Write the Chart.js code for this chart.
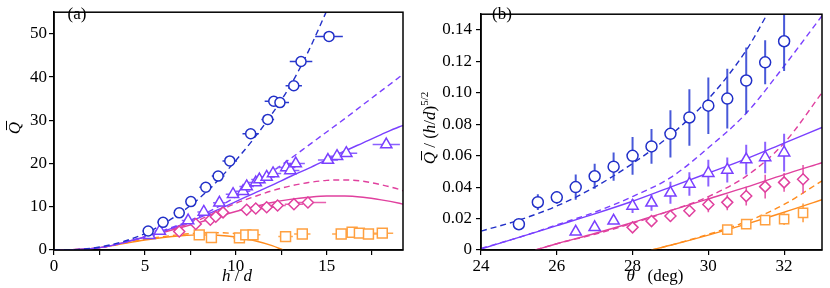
<!DOCTYPE html>
<html>
<head>
<meta charset="utf-8">
<script src="https://cdn.jsdelivr.net/npm/chart.js@4.4.0/dist/chart.umd.min.js"></script>
<style>
  body { margin: 0; background: #fff; width: 830px; height: 288px; overflow: hidden; position: relative; }
  canvas { position: absolute; top: 0; }
  #chartA { left: 0; }
  #chartB { left: 415px; }
</style>
</head>
<body>
<canvas id="chartA" width="415" height="288"></canvas>
<canvas id="chartB" width="415" height="288"></canvas>
<script>
// ---------- panel (a): Q vs h/d ----------
const circleH   = [5.18, 6.0, 6.89, 7.53, 8.35, 9.03, 9.67, 10.82, 11.76, 12.09, 12.43, 13.19, 13.59, 15.13];
const circleQ   = [4.4, 6.4, 8.6, 11.2, 14.5, 17.1, 20.6, 26.9, 30.2, 34.4, 34.1, 38.0, 43.6, 49.4];
const circleHErr = [0.3, 0.3, 0.3, 0.3, 0.35, 0.35, 0.4, 0.45, 0.35, 0.5, 0.5, 0.45, 0.62, 0.76];

const triH   = [5.25, 5.82, 7.38, 8.24, 9.1, 9.85, 10.4, 10.6, 11.1, 11.3, 11.7, 12.05, 12.78, 13.0, 13.3, 15.07, 15.57, 16.08, 18.28];
const triQ   = [3.4, 4.4, 6.8, 8.8, 10.9, 12.9, 13.6, 14.7, 15.6, 16.3, 16.9, 17.7, 19.1, 18.4, 20.0, 20.8, 21.7, 22.4, 24.4];
const triHErr = [0.3, 0.3, 0.35, 0.35, 0.35, 0.4, 0.4, 0.4, 0.45, 0.45, 0.45, 0.45, 0.5, 0.5, 0.5, 0.55, 0.55, 0.6, 0.75];

const diaH   = [6.89, 7.8, 8.6, 8.9, 9.3, 10.6, 11.1, 11.7, 12.3, 13.2, 13.97];
const diaQ   = [4.3, 6.0, 7.0, 7.7, 8.7, 9.3, 9.6, 9.9, 10.3, 10.6, 11.0];
const diaHErr = [0.3, 0.3, 0.3, 0.3, 0.35, 0.4, 0.4, 0.45, 0.45, 0.5, 1.0];

const sqH   = [7.99, 8.66, 10.2, 10.55, 10.95, 12.74, 13.66, 15.8, 16.4, 16.8, 17.3, 18.06];
const sqQ   = [3.5, 2.9, 2.8, 3.5, 3.5, 3.1, 3.7, 3.7, 4.1, 3.9, 3.7, 3.9];
const sqHErr = [0.3, 0.3, 0.35, 0.35, 0.4, 0.4, 0.45, 0.5, 0.5, 0.55, 0.55, 0.6];

const curveH      = [0, 1, 2, 3, 4, 5, 6, 7, 8, 9, 10, 11, 12, 13, 14, 15, 16, 17, 18, 19, 19.2];
const blueDashQ   = [0, 0.05, 0.35, 1.1, 2.2, 3.8, 6.0, 8.7, 12.0, 16.0, 20.7, 25.8, 31.5, 38.0, 46.0, 55.3];
const purpDashQ   = [0, 0.05, 0.3, 0.9, 1.9, 3.1, 4.5, 6.0, 7.8, 9.9, 12.3, 15.1, 18.1, 21.1, 24.2, 27.3, 30.4, 33.6, 36.8, 40.0, 40.7];
const purpSolidQ  = [0, 0.05, 0.3, 0.9, 1.9, 3.0, 4.3, 5.8, 7.5, 9.3, 11.2, 13.1, 15.0, 17.0, 18.9, 20.9, 22.9, 24.8, 26.7, 28.5, 28.8];
const magDashQ    = [0, 0.05, 0.3, 0.9, 1.9, 3.0, 4.2, 5.5, 7.0, 8.9, 10.8, 12.3, 13.7, 14.8, 15.6, 16.1, 16.2, 15.9, 15.1, 14.0, 13.7];
const magSolidQ   = [0, 0.05, 0.3, 0.9, 1.9, 3.0, 4.1, 5.2, 6.4, 7.7, 8.9, 10.0, 11.0, 11.7, 12.2, 12.5, 12.5, 12.2, 11.6, 10.8, 10.6];
const orangeDashQ = [0, 0.05, 0.3, 0.85, 1.7, 2.5, 3.1, 3.6, 3.9, 4.0, 3.8, 3.4];
const orangeSolidH = [0, 1, 2, 3, 4, 5, 6, 7, 8, 9, 10, 11, 12, 12.6];
const orangeSolidQ = [0, 0.05, 0.3, 0.85, 1.6, 2.3, 2.9, 3.3, 3.5, 3.4, 3.0, 2.2, 1.0, 0];

// ---------- panel (b): Q / (h/d)^(5/2) vs theta ----------
const thetaCirc = [25, 25.5, 26, 26.5, 27, 27.5, 28, 28.5, 29, 29.5, 30, 30.5, 31, 31.5, 32];
const circVal   = [0.0164, 0.0304, 0.0335, 0.040, 0.0469, 0.053, 0.0599, 0.0659, 0.0739, 0.0843, 0.0918, 0.0963, 0.1078, 0.1194, 0.1328];
const circErr   = [0.002, 0.005, 0.004, 0.008, 0.008, 0.009, 0.012, 0.011, 0.015, 0.018, 0.018, 0.019, 0.021, 0.014, 0.019];

const thetaTri = [26.5, 27, 27.5, 28, 28.5, 29, 29.5, 30, 30.5, 31, 31.5, 32];
const triVal   = [0.0116, 0.0144, 0.0186, 0.028, 0.030, 0.0364, 0.042, 0.0489, 0.0509, 0.0575, 0.0589, 0.0619];
const triErr   = [0.001, 0.001, 0.002, 0.0045, 0.005, 0.007, 0.0075, 0.0085, 0.008, 0.0095, 0.010, 0.012];

const thetaDia = [28, 28.5, 29, 29.5, 30, 30.5, 31, 31.5, 32, 32.5];
const diaVal   = [0.0144, 0.0184, 0.0216, 0.025, 0.029, 0.0303, 0.0343, 0.0403, 0.043, 0.045];
const diaErr   = [0.001, 0.002, 0.0035, 0.004, 0.005, 0.005, 0.006, 0.0075, 0.006, 0.009];

const thetaSq = [30.5, 31, 31.5, 32, 32.5];
const sqVal   = [0.013, 0.0164, 0.019, 0.0196, 0.0236];
const sqErr   = [0.002, 0.002, 0.003, 0.0037, 0.006];

const thetaBlueDash = [24, 25, 26, 27, 28, 29, 30, 31, 31.6];
const blueDashB     = [0.012, 0.019, 0.028, 0.040, 0.055, 0.073, 0.096, 0.127, 0.152];
const thetaFull     = [24, 25, 26, 27, 28, 29, 30, 31, 32, 33];
const purpDashB     = [0.001, 0.008, 0.016, 0.024, 0.034, 0.046, 0.065, 0.087, 0.117, 0.149];
const purpSolidB    = [0.0006, 0.008, 0.0155, 0.023, 0.031, 0.040, 0.049, 0.058, 0.068, 0.078];
const thetaMag      = [25.44, 26, 27, 28, 29, 30, 31, 32, 33];
const magDashB      = [0, 0.004, 0.010, 0.017, 0.025, 0.034, 0.047, 0.068, 0.100];
const magSolidB     = [0, 0.004, 0.0105, 0.0175, 0.025, 0.0325, 0.040, 0.048, 0.0555];
const thetaOrange   = [28.5, 29, 30, 31, 32, 33];
const orangeDashB   = [0, 0.003, 0.010, 0.018, 0.029, 0.044];
const orangeSolidB  = [0, 0.003, 0.0095, 0.0165, 0.024, 0.032];

const xTicksA = [0, 5, 10, 15];

// ---------- styles ----------
const BLUE = '#2230c8', PURPLE = '#7a40ff', MAGENTA = '#e0409e', ORANGE = '#ff8c1e';
const SERIF = '"Liberation Serif", "Times New Roman", serif';

Chart.defaults.font.family = SERIF;
Chart.defaults.font.size = 17;
Chart.defaults.color = '#000';

const pts = (xs, ys) => ys.map((y, i) => ({ x: xs[i], y: y }));

function curve(xs, ys, color, dashed) {
  return {
    data: pts(xs, ys), showLine: true, pointRadius: 0, borderColor: color,
    borderWidth: 1.4, borderDash: dashed ? [6, 4] : [], cubicInterpolationMode: 'monotone',
    order: 3
  };
}
function marks(xs, ys, style, r, color, fill, extra) {
  return Object.assign({
    data: pts(xs, ys), showLine: false, pointStyle: style, pointRadius: r,
    borderColor: color, backgroundColor: fill, pointBorderWidth: 1.5, order: 1
  }, extra);
}

// draws error bars, frame and the text labels
const deco = {
  id: 'deco',
  beforeDatasetDraw(chart, args) {
    const ds = chart.data.datasets[args.index];
    if (!ds.xErr && !ds.yErr) return;
    const ctx = chart.ctx, xs = chart.scales.x, ys = chart.scales.y, a = chart.chartArea;
    ctx.save();
    ctx.beginPath();
    ctx.rect(a.left, a.top, a.right - a.left, a.bottom - a.top);
    ctx.clip();
    ctx.strokeStyle = ds.errColor || ds.borderColor;
    ctx.lineWidth = ds.errWidth || 1.5;
    ds.data.forEach((p, i) => {
      ctx.beginPath();
      if (ds.xErr) {
        const py = ys.getPixelForValue(p.y);
        ctx.moveTo(xs.getPixelForValue(p.x - ds.xErr[i]), py);
        ctx.lineTo(xs.getPixelForValue(p.x + ds.xErr[i]), py);
      }
      if (ds.yErr) {
        const px = xs.getPixelForValue(p.x);
        ctx.moveTo(px, ys.getPixelForValue(p.y - ds.yErr[i]));
        ctx.lineTo(px, ys.getPixelForValue(p.y + ds.yErr[i]));
      }
      ctx.stroke();
    });
    ctx.restore();
  },
  afterDraw(chart, args, opts) {
    const ctx = chart.ctx, a = chart.chartArea;
    ctx.save();
    ctx.strokeStyle = '#000';
    ctx.lineWidth = 1.5;
    ctx.strokeRect(a.left, a.top, a.right - a.left, a.bottom - a.top);
    (opts.texts || []).forEach(t => drawRuns(ctx, t.runs, t.x, t.y, t.rot));
    ctx.restore();
  }
};

// text made of runs with their own fonts; a run with bar:true gets an overbar
function drawRuns(ctx, runs, x, y, rot) {
  ctx.save();
  ctx.translate(x, y);
  if (rot) ctx.rotate(-Math.PI / 2);
  ctx.fillStyle = '#000';
  ctx.strokeStyle = '#000';
  ctx.textBaseline = 'middle';
  ctx.textAlign = 'left';
  let w = 0;
  runs.forEach(r => { ctx.font = r.f; w += ctx.measureText(r.t).width; });
  let cx = -w / 2;
  runs.forEach(r => {
    ctx.font = r.f;
    const rw = ctx.measureText(r.t).width;
    ctx.fillText(r.t, cx, r.dy || 0);
    if (r.bar) {
      ctx.lineWidth = 1;
      ctx.beginPath();
      ctx.moveTo(cx + 4, -9.5);
      ctx.lineTo(cx + rw + 1, -9.5);
      ctx.stroke();
    }
    cx += rw;
  });
  ctx.restore();
}

const IT = 'italic 17px ' + SERIF, RM = '17px ' + SERIF, SM = '11px ' + SERIF;

function axisOpts(min, max, step, cb, tickPad, fitSize, isY) {
  return {
    type: 'linear', min: min, max: max,
    grid: { drawOnChartArea: false, drawTicks: true, tickLength: 5, color: '#000', lineWidth: 1.2 },
    border: { display: true, color: '#000', width: 1.5 },
    ticks: { stepSize: step, includeBounds: false, padding: tickPad, callback: cb, autoSkip: false, maxRotation: 0 },
    afterFit: s => { if (isY) s.width = fitSize; else s.height = fitSize; }
  };
}

// ---------- chart (a) ----------
new Chart(document.getElementById('chartA'), {
  type: 'scatter',
  data: {
    datasets: [
      marks(circleH, circleQ, 'circle', 5, BLUE, '#fff', { xErr: circleHErr, errColor: '#2a3ad0' }),
      marks(triH, triQ, 'triangle', 6.5, PURPLE, '#fff', { xErr: triHErr, errColor: '#8a60ff', order: 1.2 }),
      marks(diaH, diaQ, 'rectRot', 5.5, MAGENTA, '#fff', { xErr: diaHErr, errColor: '#e860b0', order: 1.4 }),
      marks(sqH, sqQ, 'rect', 7, '#ffa040', '#fff', { xErr: sqHErr, errColor: '#ffa850', order: 1.6 }),
      curve(curveH, blueDashQ, BLUE, true),
      curve(curveH, purpDashQ, PURPLE, true),
      curve(curveH, purpSolidQ, PURPLE, false),
      curve(curveH, magDashQ, MAGENTA, true),
      curve(curveH, magSolidQ, MAGENTA, false),
      curve(curveH, orangeDashQ, ORANGE, true),
      curve(orangeSolidH, orangeSolidQ, ORANGE, false)
    ]
  },
  options: {
    responsive: false, animation: false, devicePixelRatio: 1,
    layout: { padding: { top: 1, right: 12, left: 0, bottom: 0 } },
    plugins: {
      legend: { display: false }, tooltip: { enabled: false },
      deco: {
        texts: [
          { runs: [{ t: '(a)', f: RM }], x: 77, y: 15 },
          { runs: [{ t: 'h', f: IT }, { t: ' / ', f: RM }, { t: 'd', f: IT }], x: 237, y: 277 },
          { runs: [{ t: 'Q', f: IT, bar: true }], x: 16, y: 128, rot: true }
        ]
      }
    },
    scales: {
      x: axisOpts(0, 19.2, 2.5, v => (xTicksA.includes(v) ? String(v) : ''), 1, 38, false),
      y: axisOpts(0, 55, 10, v => String(v), 2, 54, true)
    }
  },
  plugins: [deco]
});

// ---------- chart (b) ----------
new Chart(document.getElementById('chartB'), {
  type: 'scatter',
  data: {
    datasets: [
      marks(thetaCirc, circVal, 'circle', 5.5, BLUE, '#fff', { yErr: circErr, errColor: 'rgba(40,60,210,0.85)', errWidth: 2 }),
      marks(thetaTri, triVal, 'triangle', 6.5, PURPLE, '#fff', { yErr: triErr, errColor: 'rgba(120,70,255,0.85)', errWidth: 2, order: 1.2 }),
      marks(thetaDia, diaVal, 'rectRot', 5.5, MAGENTA, '#fff', { yErr: diaErr, errColor: 'rgba(224,64,158,0.85)', errWidth: 1.6, order: 1.4 }),
      marks(thetaSq, sqVal, 'rect', 6.5, '#ffa040', '#fff', { yErr: sqErr, errColor: 'rgba(255,150,50,0.9)', errWidth: 1.6, order: 1.6 }),
      curve(thetaBlueDash, blueDashB, BLUE, true),
      curve(thetaFull, purpDashB, PURPLE, true),
      curve(thetaFull, purpSolidB, PURPLE, false),
      curve(thetaMag, magDashB, MAGENTA, true),
      curve(thetaMag, magSolidB, MAGENTA, false),
      curve(thetaOrange, orangeDashB, ORANGE, true),
      curve(thetaOrange, orangeSolidB, ORANGE, false)
    ]
  },
  options: {
    responsive: false, animation: false, devicePixelRatio: 1,
    layout: { padding: { top: 1, right: 1, left: 0, bottom: 0 } },
    plugins: {
      legend: { display: false }, tooltip: { enabled: false },
      deco: {
        texts: [
          { runs: [{ t: '(b)', f: RM }], x: 87, y: 15 },
          { runs: [{ t: '\u03b8', f: IT }, { t: '   (deg)', f: RM }], x: 240, y: 277 },
          { runs: [{ t: 'Q', f: IT, bar: true }, { t: ' / (', f: RM }, { t: 'h', f: IT }, { t: '/', f: RM }, { t: 'd', f: IT }, { t: ')', f: RM }, { t: '5/2', f: SM, dy: -6 }], x: 16, y: 128, rot: true }
        ]
      }
    },
    scales: {
      x: axisOpts(24, 33, 2, v => String(v), 1, 38, false),
      y: axisOpts(0, 0.15, 0.02, v => (v === 0 ? '0' : v.toFixed(2)), 4, 66, true)
    }
  },
  plugins: [deco]
});
</script>
</body>
</html>
